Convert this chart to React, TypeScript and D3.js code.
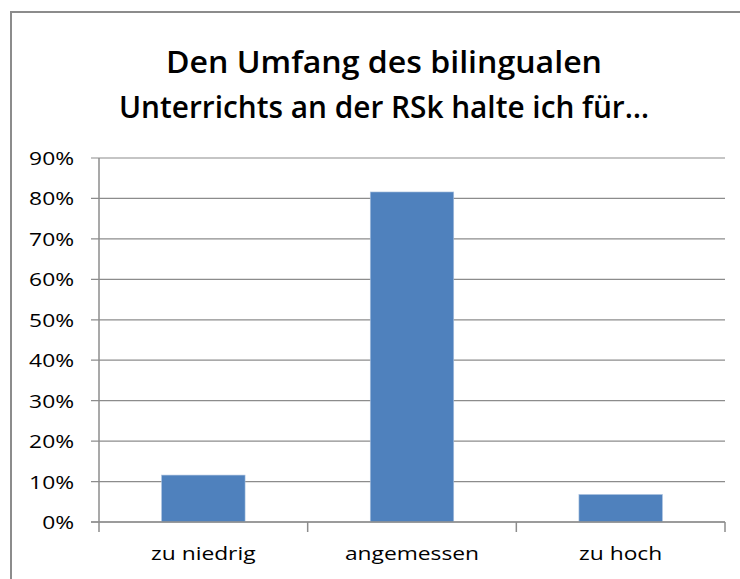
import React, { useEffect, useRef } from "react";
import * as d3 from "d3";

// chart data
const categories = ["zu niedrig", "angemessen", "zu hoch"];
const values = [0.116, 0.816, 0.068];
const yTicks = [0, 0.1, 0.2, 0.3, 0.4, 0.5, 0.6, 0.7, 0.8, 0.9];
const titleLines = [
    "Den Umfang des bilingualen",
    "Unterrichts an der RSk halte ich für…",
];

const App = () => {
    const chartRef = useRef<SVGSVGElement | null>(null);

    useEffect(() => {
        const svg = d3.select(chartRef.current);
        svg.selectAll("*").remove();

        const width = 740;
        const height = 579;
        const margin = { top: 158, right: 15, bottom: 57, left: 99 };
        const font = "'Open Sans', 'Noto Sans', sans-serif";
        const stretch = 1.2;

        svg.attr("width", width).attr("height", height);

        // outer chart border (only left and top visible)
        svg.append("rect")
            .attr("x", 11)
            .attr("y", 12)
            .attr("width", 900)
            .attr("height", 800)
            .attr("fill", "white")
            .attr("stroke", "#8c8c8c")
            .attr("stroke-width", 2);

        // title
        svg.append("g")
            .selectAll("text")
            .data(titleLines)
            .join("text")
            .attr("x", 384)
            .attr("y", (d, i) => 73 + i * 45)
            .attr("text-anchor", "middle")
            .attr("font-family", font)
            .attr("font-weight", 600)
            .attr("font-size", 31)
            .attr("textLength", (d, i) => (i === 0 ? 436 : 530))
            .attr("lengthAdjust", "spacingAndGlyphs")
            .attr("fill", "#000")
            .text((d) => d);

        // scales
        const x = d3
            .scaleBand()
            .domain(categories)
            .range([margin.left, width - margin.right])
            .paddingInner(0.6)
            .paddingOuter(0.3);

        const y = d3
            .scaleLinear()
            .domain([0, 0.9])
            .range([height - margin.bottom, margin.top]);

        // gridlines
        svg.append("g")
            .selectAll("line")
            .data(yTicks)
            .join("line")
            .attr("x1", margin.left - 8)
            .attr("x2", width - margin.right)
            .attr("y1", (d) => y(d))
            .attr("y2", (d) => y(d))
            .attr("stroke", "#8c8c8c")
            .attr("stroke-width", 1.2);

        // y axis labels
        svg.append("g")
            .selectAll("text")
            .data(yTicks)
            .join("text")
            .attr("transform", (d) => `translate(74,${y(d) + 7}) scale(${stretch},1)`)
            .attr("text-anchor", "end")
            .attr("font-family", font)
            .attr("font-size", 19)
            .attr("fill", "#000")
            .text((d) => d3.format(".0%")(d));

        // bars
        svg.append("g")
            .selectAll("rect")
            .data(values)
            .join("rect")
            .attr("x", (d, i) => x(categories[i]))
            .attr("y", (d) => y(d))
            .attr("width", x.bandwidth())
            .attr("height", (d) => y(0) - y(d))
            .attr("fill", "#4f81bd")
            .attr("stroke", "#a9c0de")
            .attr("stroke-width", 0.6);

        // y axis line
        svg.append("line")
            .attr("x1", margin.left)
            .attr("x2", margin.left)
            .attr("y1", y(0.9))
            .attr("y2", y(0) + 10)
            .attr("stroke", "#8c8c8c")
            .attr("stroke-width", 1.5);

        // x axis: category boundary ticks
        const bandWidth = (width - margin.right - margin.left) / categories.length;
        const bounds = d3.range(1, categories.length + 1).map((i) => margin.left + i * bandWidth);
        svg.append("g")
            .selectAll("line")
            .data(bounds)
            .join("line")
            .attr("x1", (d) => d)
            .attr("x2", (d) => d)
            .attr("y1", y(0))
            .attr("y2", y(0) + 10)
            .attr("stroke", "#8c8c8c")
            .attr("stroke-width", 1.5);

        svg.append("line")
            .attr("x1", margin.left - 8)
            .attr("x2", width - margin.right)
            .attr("y1", y(0))
            .attr("y2", y(0))
            .attr("stroke", "#8c8c8c")
            .attr("stroke-width", 1.5);

        // category labels
        svg.append("g")
            .selectAll("text")
            .data(categories)
            .join("text")
            .attr("transform", (d) => `translate(${x(d)! + x.bandwidth() / 2},560) scale(${stretch},1)`)
            .attr("text-anchor", "middle")
            .attr("font-family", font)
            .attr("font-size", 19)
            .attr("fill", "#000")
            .text((d) => d);
    }, []);

    return (
        <svg
            ref={chartRef}
            style={{ position: "absolute", left: 0, top: 0, display: "block" }}
        ></svg>
    );
};

export default App;
